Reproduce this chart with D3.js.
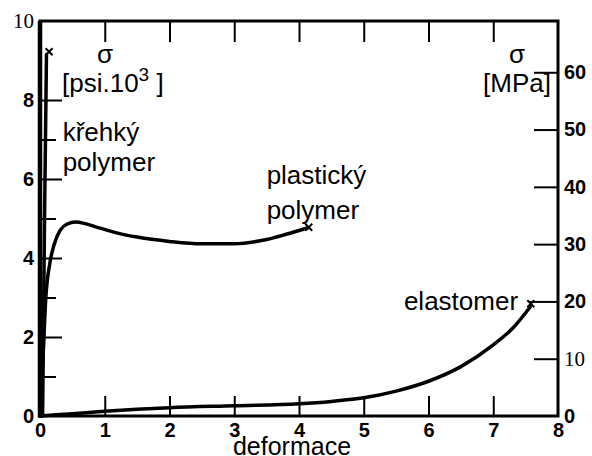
<!DOCTYPE html>
<html>
<head>
<meta charset="utf-8">
<script src="https://cdn.jsdelivr.net/npm/d3@7"></script>
<style>
  body { margin: 0; background: #fff; }
  svg { display: block; }
  text { font-family: "Liberation Sans", Arial, sans-serif; fill: #000; }
</style>
</head>
<body>
<svg id="chart" width="592" height="456"></svg>
<script>
// stress in psi.10^3 against deformation
const brittle = [[0.04, 0], [0.07, 5.0], [0.1, 9.15]];
const plastic = [
	[0, 0], [0.05, 1.6], [0.09, 3.0], [0.15, 3.85], [0.22, 4.35], [0.31, 4.7],
	[0.42, 4.86], [0.55, 4.91], [0.7, 4.87], [0.9, 4.77], [1.2, 4.63],
	[1.5, 4.53], [2.0, 4.42], [2.5, 4.36], [3.0, 4.36], [3.5, 4.47],
	[3.8, 4.6], [4.13, 4.76]
];
const elastomer = [
	[0, 0], [0.5, 0.06], [1, 0.12], [1.5, 0.17], [2, 0.21], [3, 0.26],
	[4, 0.31], [4.5, 0.37], [5, 0.46], [5.5, 0.63], [6, 0.88],
	[6.5, 1.25], [7, 1.8], [7.3, 2.22], [7.57, 2.76]
];
const endMarks = [[0.14, 9.22], [4.15, 4.78], [7.58, 2.84]];

const xTicks = [0, 1, 2, 3, 4, 5, 6, 7, 8];
const psiTicks = [0, 1, 2, 3, 4, 5, 6, 7, 8, 9, 10];
const mpaTicks = [0, 10, 20, 30, 40, 50, 60];

const labels = [
	{ text: 'křehký', x: 0.35, y: 6.95 },
	{ text: 'polymer', x: 0.35, y: 6.2 },
	{ text: 'plastický', x: 3.5, y: 5.88 },
	{ text: 'polymer', x: 3.5, y: 5.0 },
	{ text: 'elastomer', x: 5.62, y: 2.68 }
];

const svg = d3.select('#chart');
const x = d3.scaleLinear().domain([0, 8]).range([40, 558]);
const y = d3.scaleLinear().domain([0, 10]).range([416, 21]);
// 1 ksi = 6.895 MPa
const yMpa = d3.scaleLinear().domain([0, 68.95]).range([416, 21]);

// axes
const gBottom = svg.append('g')
	.attr('transform', `translate(0, ${y(0)})`)
	.call(d3.axisBottom(x).tickValues(xTicks).tickSize(-20).tickPadding(7).tickFormat(d3.format('d')));

const gTop = svg.append('g')
	.attr('transform', `translate(0, ${y(10)})`)
	.call(d3.axisTop(x).tickValues(xTicks.slice(1, -1)).tickSize(-21).tickFormat(''));

const gLeft = svg.append('g')
	.attr('transform', `translate(${x(0)}, 0)`)
	.call(d3.axisLeft(y).tickValues(psiTicks).tickSize(-22).tickPadding(6)
		.tickFormat(d => d % 2 ? '' : d));

const gRight = svg.append('g')
	.attr('transform', `translate(${x(8)}, 0)`)
	.call(d3.axisRight(yMpa).tickValues(mpaTicks).tickSize(-24).tickPadding(6));

[gBottom, gTop, gLeft, gRight].forEach(g => {
	g.select('.domain').remove();
	g.selectAll('line').attr('stroke', '#000').attr('stroke-width', 2);
	g.selectAll('text')
		.attr('fill', '#000')
		.style('font-family', '"Liberation Sans", Arial, sans-serif')
		.style('font-size', '20px')
		.style('font-weight', 'bold');
});

// shorter minor ticks on the left, none on the frame
gLeft.selectAll('.tick').each(function(d){
	const t = d3.select(this);
	if (d === 0 || d === 10 || d === 9) t.select('line').remove();
	else if (d % 2) t.select('line').attr('x2', 16);
});
gBottom.selectAll('.tick').filter(d => d === 0 || d === 8).select('line').remove();
gRight.selectAll('.tick').filter(d => d === 0).select('line').remove();
gRight.selectAll('.tick').filter(d => d === 20).select('line').attr('x2', -28);

// the "10" labels are set in a serif face in the original
[gLeft, gRight].forEach(g => {
	g.selectAll('.tick text').filter(d => d === 10)
		.style('font-family', '"Liberation Serif", serif')
		.style('font-weight', 'normal')
		.style('font-size', '21px');
});

// frame
svg.append('rect')
	.attr('x', x(0)).attr('y', y(10))
	.attr('width', x(8) - x(0)).attr('height', y(0) - y(10))
	.attr('fill', 'none').attr('stroke', '#000').attr('stroke-width', 3);
svg.append('line')
	.attr('x1', x(0)).attr('x2', x(0)).attr('y1', y(10)).attr('y2', y(0) + 1.5)
	.attr('stroke', '#000').attr('stroke-width', 4.5);

// curves
const smooth = d3.line()
	.x(d => x(d[0]))
	.y(d => y(d[1]))
	.curve(d3.curveMonotoneX);

svg.selectAll('path.curve')
	.data([brittle, plastic, elastomer])
	.enter()
	.append('path')
	.attr('class', 'curve')
	.attr('d', smooth)
	.attr('fill', 'none')
	.attr('stroke', '#000')
	.attr('stroke-width', 3.5)
	.attr('stroke-linecap', 'round');

// end markers
const sz = 3.5;
svg.selectAll('path.mark')
	.data(endMarks)
	.enter()
	.append('path')
	.attr('class', 'mark')
	.attr('d', d => {
		const cx = x(d[0]), cy = y(d[1]);
		return `M${cx - sz},${cy - sz}L${cx + sz},${cy + sz}M${cx - sz},${cy + sz}L${cx + sz},${cy - sz}`;
	})
	.attr('stroke', '#000')
	.attr('stroke-width', 2);

// curve labels
svg.selectAll('text.lbl')
	.data(labels)
	.enter()
	.append('text')
	.attr('class', 'lbl')
	.attr('x', d => x(d.x))
	.attr('y', d => y(d.y))
	.style('font-size', '26px')
	.text(d => d.text);

// axis titles
const left = svg.append('text').attr('x', x(0) + 22).attr('y', 92).style('font-size', '26px');
left.append('tspan').text('[psi.10');
left.append('tspan').attr('dy', -11).style('font-size', '19px').text('3');
left.append('tspan').attr('dy', 11).text(' ]');
svg.append('text').attr('x', 105).attr('y', 63).attr('text-anchor', 'middle')
	.style('font-size', '26px').text('σ');

svg.append('text').attr('x', 517).attr('y', 63).attr('text-anchor', 'middle')
	.style('font-size', '26px').text('σ');
svg.append('text').attr('x', 551).attr('y', 92).attr('text-anchor', 'end')
	.style('font-size', '26px').text('[MPa]');

svg.append('text').attr('x', 292).attr('y', 455).attr('text-anchor', 'middle')
	.style('font-size', '25px').text('deformace');
</script>
</body>
</html>
